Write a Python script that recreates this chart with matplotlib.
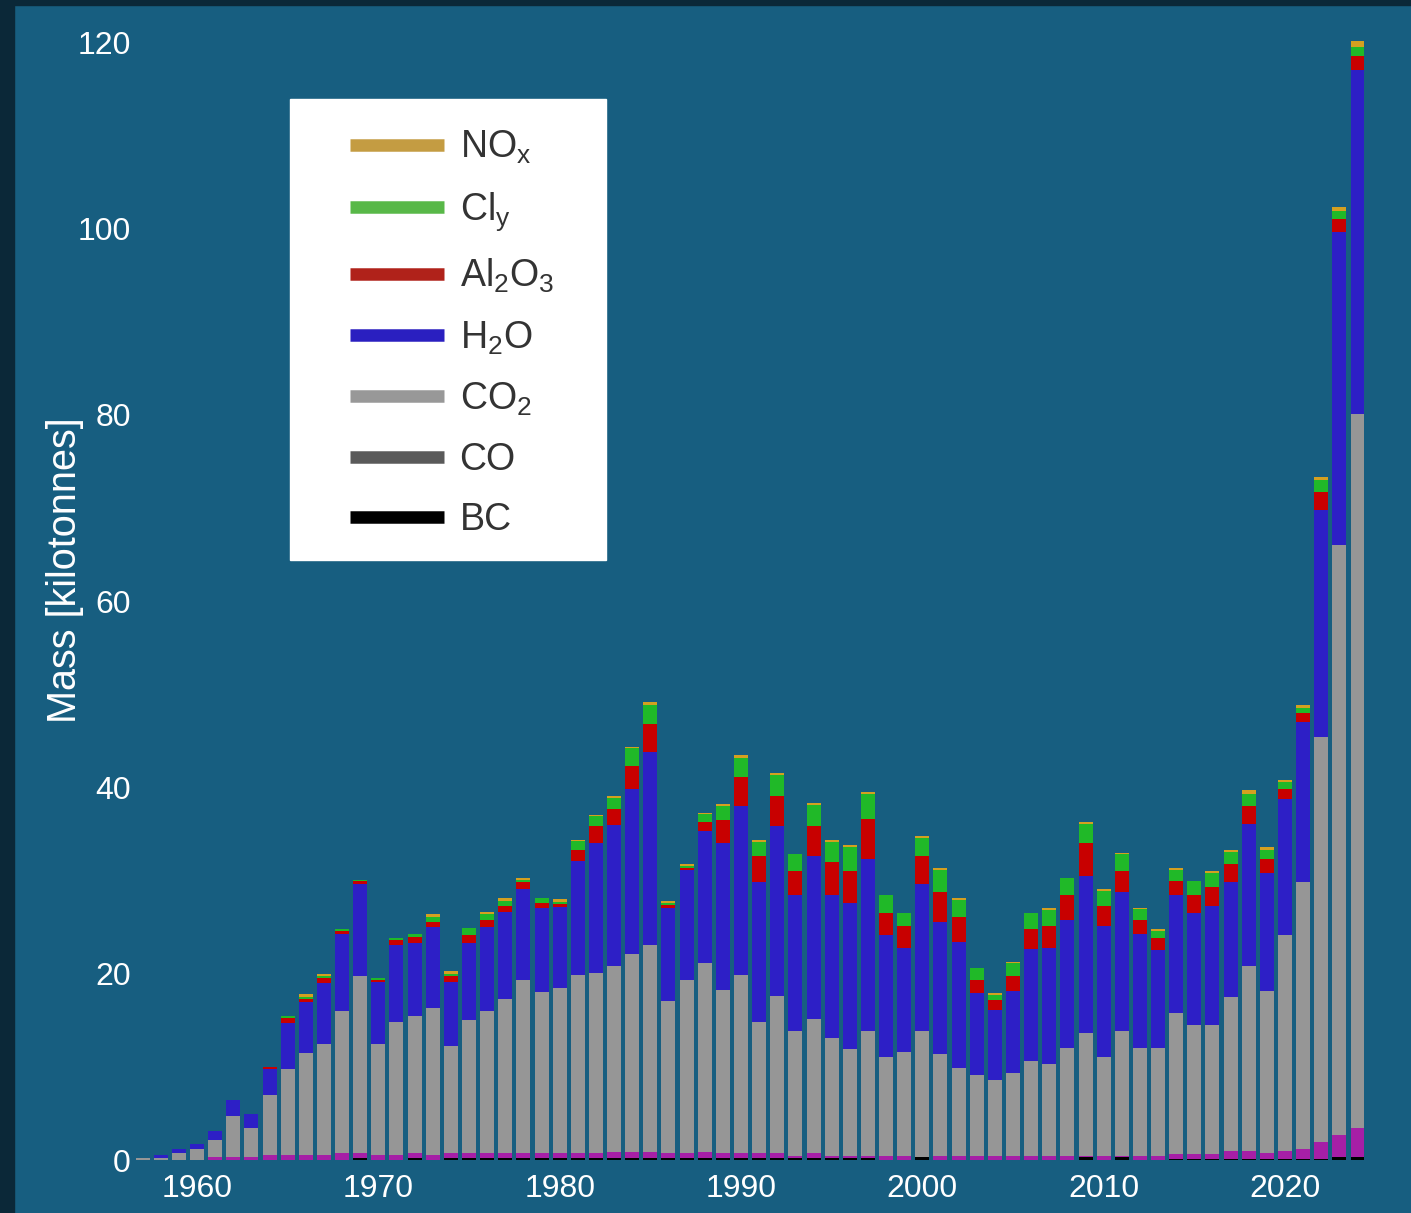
"""Stacked bars of rocket emission mass per year."""

import numpy as np
import matplotlib.pyplot as plt
from matplotlib.lines import Line2D
from matplotlib.patches import Rectangle

plt.rcParams['font.family'] = ['Liberation Sans', 'DejaVu Sans']
plt.rcParams['mathtext.fontset'] = 'custom'
plt.rcParams['mathtext.rm'] = 'Liberation Sans'

years = np.arange(1957, 2025)

# layer masses in kilotonnes, bottom to top
bc = [0, 0, 0, 0, 0, 0, 0, 0, 0, 0, 0, 0, 0.2, 0, 0, 0.2, 0, 0.2, 0.2, 0.2,
      0.2, 0.2, 0.2, 0.2, 0.2, 0.2, 0.2, 0.2, 0.2, 0.2, 0.2, 0.2, 0.2, 0.2, 0.2, 0.2,
      0.2, 0.2, 0.2, 0.2, 0.2, 0, 0, 0.35, 0, 0, 0, 0, 0, 0, 0, 0, 0.3, 0,
      0.3, 0, 0, 0.15, 0.15, 0.15, 0.15, 0.15, 0.15, 0.15, 0.15, 0.15, 0.35, 0.35]
co = [0] * 68
other = [0, 0, 0, 0, 0.3, 0.3, 0.3, 0.55, 0.55, 0.55, 0.55, 0.8, 0.6, 0.55, 0.55, 0.55,
         0.55, 0.5, 0.5, 0.5, 0.5, 0.5, 0.5, 0.5, 0.5, 0.5, 0.7, 0.7, 0.7, 0.5, 0.5, 0.7,
         0.5, 0.5, 0.5, 0.5, 0.25, 0.5, 0.25, 0.25, 0.25, 0.45, 0.45, 0, 0.45, 0.45, 0.45,
         0.45, 0.45, 0.45, 0.45, 0.45, 0.15, 0.45, 0.1, 0.45, 0.45, 0.5, 0.5, 0.5, 0.8,
         0.8, 0.55, 0.8, 1.0, 1.75, 2.3, 3.05]
co2 = [0.18, 0.2, 0.72, 1.19, 1.86, 4.38, 3.12, 6.4, 9.2, 10.95, 11.95, 15.2, 19.0,
       11.95, 14.25, 14.75, 15.75, 11.55, 14.3, 15.3, 16.6, 18.6, 17.3, 17.8, 19.2, 19.4,
       19.9, 21.2, 22.2, 16.4, 18.6, 20.2, 17.6, 19.15, 14.15, 16.9, 13.45, 14.4, 12.65,
       11.45, 13.45, 10.65, 11.15, 13.55, 10.95, 9.45, 8.65, 8.15, 8.85, 10.15, 9.85,
       11.55, 13.15, 10.65, 13.4, 11.55, 11.55, 15.15, 13.85, 13.85, 16.55, 19.85, 17.4,
       23.15, 28.65, 43.5, 63.35, 76.7]
h2o = [0, 0.34, 0.47, 0.5, 1.0, 1.8, 1.5, 2.8, 5.0, 5.5, 6.5, 8.3, 9.8, 6.6, 8.3, 7.8,
       8.7, 6.85, 8.3, 9.0, 9.3, 9.8, 9.1, 8.7, 12.2, 13.9, 15.2, 17.7, 20.7, 10.0, 11.8,
       14.2, 15.7, 18.15, 14.95, 18.2, 14.5, 17.5, 15.4, 15.7, 18.4, 13.1, 11.2, 15.7,
       14.2, 13.5, 8.8, 7.5, 8.8, 12.0, 12.5, 13.8, 16.9, 14.0, 15.0, 12.3, 10.55, 12.7,
       12.0, 12.8, 12.3, 15.3, 12.7, 14.7, 17.2, 24.4, 33.6, 36.9]
al2o3 = [0, 0, 0, 0, 0, 0, 0, 0.25, 0.45, 0.3, 0.5, 0.3, 0.3, 0.25, 0.5, 0.6, 0.6, 0.7,
         0.8, 0.8, 0.7, 0.7, 0.5, 0.3, 1.2, 1.8, 1.7, 2.5, 3.0, 0.3, 0.2, 1.0, 2.5, 3.1,
         2.8, 3.25, 2.6, 3.2, 3.5, 3.4, 4.3, 2.3, 2.3, 3.0, 3.2, 2.7, 1.4, 1.05, 1.7, 2.2,
         2.3, 2.7, 3.5, 2.2, 2.2, 1.5, 1.25, 1.5, 2.0, 2.0, 2.0, 1.9, 1.5, 1.0, 1.0, 1.9,
         1.4, 1.5]
cly = [0, 0, 0, 0, 0, 0, 0, 0, 0.25, 0.2, 0.2, 0.2, 0.15, 0.15, 0.2, 0.4, 0.5, 0.2, 0.8,
       0.6, 0.5, 0.25, 0.5, 0.15, 0.9, 1.1, 1.2, 1.9, 2.0, 0.2, 0.3, 0.8, 1.5, 2.0, 1.5,
       2.25, 1.8, 2.3, 2.1, 2.6, 2.7, 1.9, 1.4, 2.0, 2.3, 1.8, 1.3, 0.55, 1.3, 1.7, 1.7,
       1.8, 2.1, 1.6, 1.8, 1.1, 0.8, 1.1, 1.4, 1.5, 1.3, 1.3, 1.0, 0.8, 0.5, 1.3, 0.9, 1.0]
nox = [0, 0, 0, 0, 0, 0, 0, 0, 0, 0.3, 0.3, 0.05, 0.05, 0, 0.05, 0, 0.3, 0.3, 0, 0.2,
       0.3, 0.25, 0, 0.35, 0.1, 0.1, 0.15, 0.1, 0.4, 0.2, 0.2, 0.2, 0.2, 0.4, 0.2, 0.2, 0,
       0.2, 0.2, 0.2, 0.2, 0.1, 0, 0.2, 0.2, 0.2, 0, 0.2, 0.2, 0, 0.2, 0, 0.2, 0.2, 0.2,
       0.2, 0.2, 0.2, 0.1, 0.2, 0.2, 0.4, 0.3, 0.2, 0.3, 0.3, 0.4, 0.6]

layers = [
    (bc, '#000000'), (co, '#595959'), (other, '#a61fa6'), (co2, '#969696'),
    (h2o, '#2d1fc6'), (al2o3, '#c80000'), (cly, '#20b928'), (nox, '#d4a020'),
]
legend_items = [
    ('NO$_\\mathrm{x}$', '#c49c42'), ('Cl$_\\mathrm{y}$', '#58b848'),
    ('Al$_\\mathrm{2}$O$_\\mathrm{3}$', '#b0221a'), ('H$_\\mathrm{2}$O', '#2a1fc0'),
    ('CO$_\\mathrm{2}$', '#989898'), ('CO', '#5a5a5a'), ('BC', '#000000'),
]

W, H = 1411, 1213
bg = '#175e80'
fig = plt.figure(figsize=(W / 100, H / 100), dpi=100, facecolor=bg)
ax = fig.add_axes([135 / W, 53 / H, 1245 / W, 1130 / H])
ax.set_facecolor(bg)

bottom = np.zeros(len(years))
for vals, col in layers:
    vals = np.array(vals, dtype=float)
    ax.bar(years, vals, bottom=bottom, width=0.77, color=col, linewidth=0)
    bottom += vals

ax.set_xlim(1956.58, 2025.24)
ax.set_ylim(0, 121.3)
ax.set_xticks(range(1960, 2021, 10))
ax.set_yticks(range(0, 121, 20))
ax.tick_params(length=0, colors='white', labelsize=23)
ax.tick_params(axis='y', pad=3)
ax.tick_params(axis='x', pad=10)
for s in ax.spines.values():
    s.set_visible(False)
ax.set_ylabel('Mass [kilotonnes]', color='white', fontsize=28.5)
ax.yaxis.set_label_coords((84 - 135) / 1245, (1160 - 570) / 1130)

# white legend box, drawn separately for the wide left margin
fig.patches.append(Rectangle((290 / W, 1 - 560 / H), 316 / W, 461 / H,
                             transform=fig.transFigure, color='white', zorder=5))
handles = [Line2D([0], [0], color=c, lw=9, solid_capstyle='butt') for _, c in legend_items]
leg = fig.legend(handles, [l for l, _ in legend_items], loc='upper left',
                 bbox_to_anchor=(350 / W, 1 - 129 / H), fontsize=27, frameon=False,
                 handlelength=2.5, handletextpad=0.42, labelspacing=0.64,
                 borderpad=0, borderaxespad=0)
leg.set_zorder(6)
for t in leg.get_texts():
    t.set_color('#333333')

# dark screenshot border at left and top
fig.patches.append(Rectangle((0, 0), 14 / W, 1, transform=fig.transFigure,
                             color='#0b2838', zorder=10))
fig.patches.append(Rectangle((0, 1 - 5 / H), 1, 5 / H, transform=fig.transFigure,
                             color='#0b2838', zorder=10))

fig.savefig('out.png', dpi=100, facecolor=bg)
